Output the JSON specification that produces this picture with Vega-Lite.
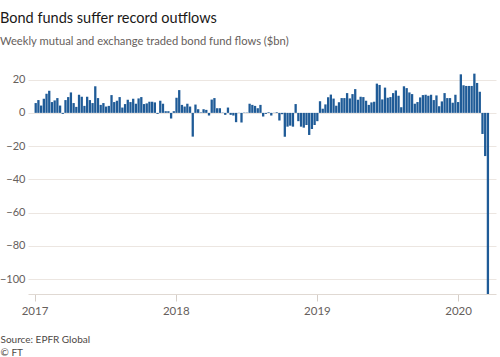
{
  "$schema": "https://vega.github.io/schema/vega-lite/v6.json",
  "width": 468,
  "height": 226,
  "autosize": {"type": "none"},
  "padding": {"left": 28, "right": 4, "top": 68, "bottom": 63},
  "background": "#ffffff",
  "title": {
    "text": "Bond funds suffer record outflows",
    "subtitle": "Weekly mutual and exchange traded bond fund flows ($bn)",
    "anchor": "start",
    "frame": "group",
    "dx": -28,
    "offset": 20,
    "font": "Lato",
    "fontSize": 14.5,
    "fontWeight": "normal",
    "color": "#1a1817",
    "subtitleFont": "Lato",
    "subtitleFontSize": 11.2,
    "subtitleColor": "#66605c",
    "subtitlePadding": 9
  },
  "data": {
    "values": [
      {"d":"2017-01-04","v":5.9},{"d":"2017-01-11","v":7.7},{"d":"2017-01-18","v":4.4},{"d":"2017-01-25","v":8.5},
      {"d":"2017-02-01","v":11.5},{"d":"2017-02-08","v":13.3},{"d":"2017-02-15","v":6.5},{"d":"2017-02-22","v":7.5},
      {"d":"2017-03-01","v":8.9},{"d":"2017-03-08","v":4.4},{"d":"2017-03-15","v":-0.6},{"d":"2017-03-22","v":7.7},{"d":"2017-03-29","v":9.5},
      {"d":"2017-04-05","v":12.3},{"d":"2017-04-12","v":5.9},{"d":"2017-04-19","v":3.6},{"d":"2017-04-26","v":10.9},
      {"d":"2017-05-03","v":9.7},{"d":"2017-05-10","v":4.2},{"d":"2017-05-17","v":9.7},{"d":"2017-05-24","v":7.7},{"d":"2017-05-31","v":5.9},
      {"d":"2017-06-07","v":16.0},{"d":"2017-06-14","v":8.9},{"d":"2017-06-21","v":4.8},{"d":"2017-06-28","v":5.9},
      {"d":"2017-07-05","v":3.8},{"d":"2017-07-12","v":4.2},{"d":"2017-07-19","v":10.7},{"d":"2017-07-26","v":6.5},
      {"d":"2017-08-02","v":7.3},{"d":"2017-08-09","v":9.5},{"d":"2017-08-16","v":3.2},{"d":"2017-08-23","v":5.3},{"d":"2017-08-30","v":7.9},
      {"d":"2017-09-06","v":6.5},{"d":"2017-09-13","v":8.5},{"d":"2017-09-20","v":5.5},{"d":"2017-09-27","v":8.7},
      {"d":"2017-10-04","v":9.5},{"d":"2017-10-11","v":5.3},{"d":"2017-10-18","v":5.7},{"d":"2017-10-25","v":6.7},
      {"d":"2017-11-01","v":6.7},{"d":"2017-11-08","v":6.3},{"d":"2017-11-15","v":-0.6},{"d":"2017-11-22","v":7.3},{"d":"2017-11-29","v":5.5},
      {"d":"2017-12-06","v":1.0},{"d":"2017-12-13","v":1.0},{"d":"2017-12-20","v":-3.4},{"d":"2017-12-27","v":1.0},
      {"d":"2018-01-03","v":9.1},{"d":"2018-01-10","v":13.7},{"d":"2018-01-17","v":4.8},{"d":"2018-01-24","v":3.8},{"d":"2018-01-31","v":5.5},
      {"d":"2018-02-07","v":3.8},{"d":"2018-02-14","v":-14.3},{"d":"2018-02-21","v":5.0},{"d":"2018-02-28","v":2.2},
      {"d":"2018-03-07","v":0.3},{"d":"2018-03-14","v":2.2},{"d":"2018-03-21","v":1.8},{"d":"2018-03-28","v":-1.6},
      {"d":"2018-04-04","v":8.0},{"d":"2018-04-11","v":8.9},{"d":"2018-04-18","v":2.8},{"d":"2018-04-25","v":2.8},
      {"d":"2018-05-02","v":0.2},{"d":"2018-05-09","v":-1.2},{"d":"2018-05-16","v":3.2},{"d":"2018-05-23","v":-1.2},{"d":"2018-05-30","v":-1.6},
      {"d":"2018-06-06","v":-5.6},{"d":"2018-06-13","v":0.1},{"d":"2018-06-20","v":-5.8},{"d":"2018-06-27","v":0.2},
      {"d":"2018-07-04","v":0.2},{"d":"2018-07-11","v":5.5},{"d":"2018-07-18","v":4.8},{"d":"2018-07-25","v":4.2},
      {"d":"2018-08-01","v":2.8},{"d":"2018-08-08","v":4.8},{"d":"2018-08-15","v":-2.2},{"d":"2018-08-22","v":-0.6},{"d":"2018-08-29","v":0.4},
      {"d":"2018-09-05","v":-1.6},{"d":"2018-09-12","v":0.1},{"d":"2018-09-19","v":0.4},{"d":"2018-09-26","v":-4.6},
      {"d":"2018-10-03","v":-0.8},{"d":"2018-10-10","v":-14.3},{"d":"2018-10-17","v":-8.3},{"d":"2018-10-24","v":-7.7},{"d":"2018-10-31","v":-8.3},
      {"d":"2018-11-07","v":5.3},{"d":"2018-11-14","v":-5.0},{"d":"2018-11-21","v":-8.3},{"d":"2018-11-28","v":-8.9},
      {"d":"2018-12-05","v":-7.3},{"d":"2018-12-12","v":-13.3},{"d":"2018-12-19","v":-9.7},{"d":"2018-12-26","v":-7.3},
      {"d":"2019-01-02","v":-5.0},{"d":"2019-01-09","v":7.0},{"d":"2019-01-16","v":2.5},{"d":"2019-01-23","v":5.1},{"d":"2019-01-30","v":9.4},
      {"d":"2019-02-06","v":11.0},{"d":"2019-02-13","v":8.6},{"d":"2019-02-20","v":4.3},{"d":"2019-02-27","v":6.4},
      {"d":"2019-03-06","v":8.9},{"d":"2019-03-13","v":8.9},{"d":"2019-03-20","v":11.9},{"d":"2019-03-27","v":8.7},
      {"d":"2019-04-03","v":11.3},{"d":"2019-04-10","v":14.3},{"d":"2019-04-17","v":7.9},{"d":"2019-04-24","v":9.7},
      {"d":"2019-05-01","v":9.5},{"d":"2019-05-08","v":7.3},{"d":"2019-05-15","v":4.8},{"d":"2019-05-22","v":6.3},{"d":"2019-05-29","v":6.7},
      {"d":"2019-06-05","v":17.6},{"d":"2019-06-12","v":16.8},{"d":"2019-06-19","v":8.1},{"d":"2019-06-26","v":15.2},
      {"d":"2019-07-03","v":9.1},{"d":"2019-07-10","v":9.5},{"d":"2019-07-17","v":11.9},{"d":"2019-07-24","v":13.5},{"d":"2019-07-31","v":10.3},
      {"d":"2019-08-07","v":3.4},{"d":"2019-08-14","v":16.0},{"d":"2019-08-21","v":14.9},{"d":"2019-08-28","v":12.3},
      {"d":"2019-09-04","v":11.3},{"d":"2019-09-11","v":5.5},{"d":"2019-09-18","v":6.5},{"d":"2019-09-25","v":9.3},
      {"d":"2019-10-02","v":10.7},{"d":"2019-10-09","v":10.9},{"d":"2019-10-16","v":10.3},{"d":"2019-10-23","v":10.9},{"d":"2019-10-30","v":7.7},
      {"d":"2019-11-06","v":10.5},{"d":"2019-11-13","v":4.0},{"d":"2019-11-20","v":6.9},{"d":"2019-11-27","v":11.9},
      {"d":"2019-12-04","v":8.9},{"d":"2019-12-11","v":8.9},{"d":"2019-12-18","v":6.1},{"d":"2019-12-25","v":10.9},
      {"d":"2020-01-01","v":6.5},{"d":"2020-01-08","v":23.2},{"d":"2020-01-15","v":16.6},{"d":"2020-01-22","v":16.2},{"d":"2020-01-29","v":16.2},
      {"d":"2020-02-05","v":16.2},{"d":"2020-02-12","v":23.6},{"d":"2020-02-19","v":18.0},{"d":"2020-02-26","v":12.7},
      {"d":"2020-03-04","v":-12.7},{"d":"2020-03-11","v":-26.0},{"d":"2020-03-18","v":-109.0}
    ]
  },
  "mark": {"type": "bar", "width": 2.3, "color": "#1f5b97", "clip": true},
  "encoding": {
    "x": {
      "field": "d",
      "type": "temporal",
      "scale": {"domain": ["2016-12-28", "2020-03-26"]},
      "axis": {
        "tickCount": {"interval": "year", "step": 1},
        "format": "%Y",
        "grid": false,
        "domainColor": "#e0d9d3",
        "tickColor": "#d5cec8",
        "tickSize": 7,
        "labelPadding": 4,
        "labelFont": "Lato",
        "labelFontSize": 11.5,
        "labelColor": "#66605c",
        "title": ["Source: EPFR Global", "© FT"],
        "titleFont": "Lato",
        "titleFontSize": 10,
        "titleFontWeight": "normal",
        "titleColor": "#4d4845",
        "titleAnchor": "start",
        "titleAlign": "left",
        "titleBaseline": "top",
        "titleX": -28,
        "titleY": 40,
        "titleLineHeight": 13
      }
    },
    "y": {
      "field": "v",
      "type": "quantitative",
      "scale": {"domain": [-109, 27], "nice": false},
      "axis": {
        "values": [-100, -80, -60, -40, -20, 0, 20],
        "domain": false,
        "ticks": false,
        "gridColor": "#ece6e1",
        "labelPadding": 3,
        "labelFont": "Lato",
        "labelFontSize": 11,
        "labelColor": "#66605c",
        "title": null
      }
    }
  },
  "config": {"view": {"stroke": null}}
}
